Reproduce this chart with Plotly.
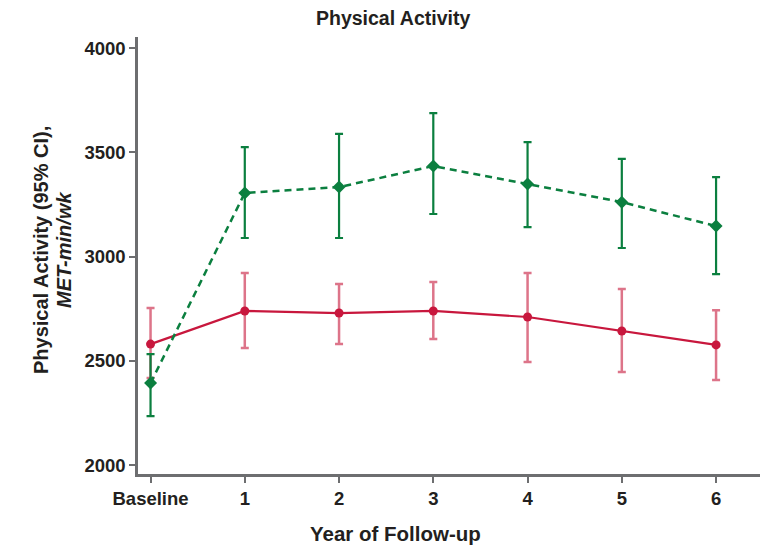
import plotly.graph_objects as go

x_vals = [0, 1, 2, 3, 4, 5, 6]
tick_labels = ["Baseline", "1", "2", "3", "4", "5", "6"]

green_mean = [2393, 3305, 3333, 3434, 3348, 3261, 3146]
green_upper = [2532, 3525, 3588, 3688, 3549, 3468, 3381]
green_lower = [2235, 3089, 3089, 3204, 3141, 3041, 2916]

red_mean = [2580, 2739, 2729, 2739, 2710, 2643, 2576]
red_upper = [2753, 2921, 2868, 2878, 2921, 2844, 2743]
red_lower = [2417, 2561, 2580, 2604, 2494, 2446, 2408]

GREEN = "#0b7f3f"
RED = "#c8173d"
RED_ERR = "rgba(200,30,65,0.62)"
FONT = "Liberation Sans, Arial, sans-serif"
TXT = "#231f20"
AX = "#6d6e70"

# page has an 8px body margin: figure drawn offset by 8px
OFF = 8
W, H = 768 - OFF, 548 - OFF
ML, MT, MB, MR = 138 - OFF, 37 - OFF, 74, 0

fig = go.Figure()

fig.add_trace(go.Scatter(
    x=x_vals, y=red_mean, mode="lines+markers",
    line=dict(color=RED, width=2.2),
    marker=dict(symbol="circle", size=9, color=RED),
    error_y=dict(type="data", symmetric=False,
                 array=[u - m for u, m in zip(red_upper, red_mean)],
                 arrayminus=[m - l for m, l in zip(red_mean, red_lower)],
                 color=RED_ERR, thickness=2.5, width=4),
    showlegend=False,
))

fig.add_trace(go.Scatter(
    x=x_vals, y=green_mean, mode="lines+markers",
    line=dict(color=GREEN, width=2.5, dash="7px,5px"),
    marker=dict(symbol="diamond", size=10, color=GREEN),
    error_y=dict(type="data", symmetric=False,
                 array=[u - m for u, m in zip(green_upper, green_mean)],
                 arrayminus=[m - l for m, l in zip(green_mean, green_lower)],
                 color=GREEN, thickness=2.2, width=4),
    showlegend=False,
))

pw = W - ML - MR
ph = H - MT - MB
def px_x(p):
    return (p - OFF - ML) / pw
def px_y(p):
    return (H - MB - (p - OFF)) / ph

def ann(text, x, y, size, angle=0):
    return dict(text=text, x=px_x(x), y=px_y(y), xref="paper", yref="paper",
                xanchor="center", yanchor="middle", showarrow=False,
                textangle=angle,
                font=dict(family=FONT, size=size, color=TXT, weight="bold"))

fig.update_layout(
    width=W, height=H,
    margin=dict(l=ML, r=MR, t=MT, b=MB),
    paper_bgcolor="white", plot_bgcolor="white",
    font=dict(family=FONT, size=19, color=TXT),
    xaxis=dict(
        range=[-0.133, 6.551], tickvals=x_vals, ticktext=tick_labels,
        showgrid=False, zeroline=False,
        showline=True, linecolor=AX, linewidth=2.5,
        ticks="outside", ticklen=6, tickwidth=2, tickcolor=AX,
        tickfont=dict(family=FONT, size=18.5, color=TXT, weight="bold"),
    ),
    yaxis=dict(
        range=[1957, 4053], tickvals=[2000, 2500, 3000, 3500, 4000],
        showgrid=False, zeroline=False,
        showline=True, linecolor=AX, linewidth=2.5,
        ticks="outside", ticklen=6, tickwidth=2, tickcolor=AX,
        tickfont=dict(family=FONT, size=18.5, color=TXT, weight="bold"),
    ),
    annotations=[
        ann("Physical Activity", 393, 18, 19.5),
        ann("Year of Follow-up", 395, 533, 20.5),
        ann("Physical Activity (95% CI),", 41, 250, 20, -90),
        ann("<i>MET-min/wk</i>", 64, 250, 20, -90),
    ],
)

fig.write_html("out.html")
